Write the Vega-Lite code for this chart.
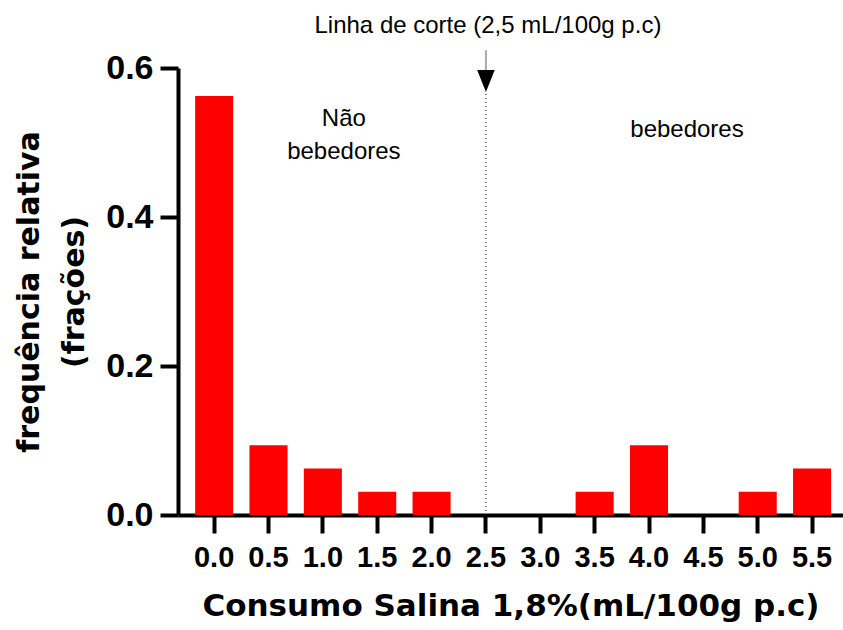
{
  "$schema": "https://vega.github.io/schema/vega-lite/v6.json",
  "autosize": {"type": "none"},
  "padding": {"left": 178, "top": 68, "right": 0, "bottom": 115},
  "width": 665,
  "height": 447,
  "config": {
    "font": "Liberation Sans",
    "view": {"stroke": null},
    "axis": {"grid": false}
  },
  "datasets": {
    "bars": [
      {"consumo": "0.0", "f": 0.5625},
      {"consumo": "0.5", "f": 0.09375},
      {"consumo": "1.0", "f": 0.0625},
      {"consumo": "1.5", "f": 0.03125},
      {"consumo": "2.0", "f": 0.03125},
      {"consumo": "2.5", "f": 0},
      {"consumo": "3.0", "f": 0},
      {"consumo": "3.5", "f": 0.03125},
      {"consumo": "4.0", "f": 0.09375},
      {"consumo": "4.5", "f": 0},
      {"consumo": "5.0", "f": 0.03125},
      {"consumo": "5.5", "f": 0.0625}
    ],
    "cut": [{"consumo": "2.5", "f": 0, "f2": 0.568}],
    "stem": [{"consumo": "2.5", "f": 0.624, "f2": 0.597}],
    "head": [{"consumo": "2.5", "f": 0.5826}],
    "cutlabel": [{"consumo": "2.5", "f": 0.657, "label": "Linha de corte (2,5 mL/100g p.c)"}],
    "nao": [{"consumo": "1.0", "f": 0.5315, "label": "Não\nbebedores"}],
    "beb": [{"consumo": "4.0", "f": 0.517, "label": "bebedores"}]
  },
  "layer": [
    {
      "data": {"name": "bars"},
      "mark": {"type": "bar", "color": "#ff0000"},
      "encoding": {
        "x": {
          "field": "consumo", "type": "ordinal",
          "scale": {"paddingInner": 0.3, "paddingOuter": 0.267, "align": 0.59},
          "axis": {
            "title": "Consumo Salina 1,8%(mL/100g p.c)",
            "titleFont": "DejaVu Sans",
            "titleFontSize": 31, "titleFontWeight": "bold", "titleColor": "black",
            "titlePadding": 19,
            "labelFontSize": 29, "labelFontWeight": "bold", "labelColor": "black",
            "labelAngle": 0, "labelPadding": 10,
            "tickSize": 18, "tickWidth": 4, "tickColor": "black",
            "domainColor": "black", "domainWidth": 4
          }
        },
        "y": {
          "field": "f", "type": "quantitative",
          "scale": {"domain": [0, 0.6], "nice": false},
          "axis": {
            "title": ["frequência relativa", "(frações)"],
            "titleFont": "DejaVu Sans",
            "titleFontSize": 30, "titleFontWeight": "bold", "titleColor": "black",
            "titleLineHeight": 45, "titlePadding": 16,
            "values": [0, 0.2, 0.4, 0.6], "format": ".1f",
            "labelFontSize": 34, "labelFontWeight": "bold", "labelColor": "black",
            "labelPadding": 7,
            "tickSize": 18, "tickWidth": 4, "tickColor": "black",
            "domainColor": "black", "domainWidth": 4
          }
        }
      }
    },
    {
      "data": {"name": "cut"},
      "mark": {"type": "rule", "color": "black", "strokeWidth": 1, "strokeDash": [1, 3]},
      "encoding": {
        "x": {"field": "consumo", "type": "ordinal"},
        "y": {"field": "f", "type": "quantitative", "scale": {"domain": [0, 0.6], "nice": false}},
        "y2": {"field": "f2"}
      }
    },
    {
      "data": {"name": "stem"},
      "mark": {"type": "rule", "color": "#aaaaaa", "strokeWidth": 2},
      "encoding": {
        "x": {"field": "consumo", "type": "ordinal"},
        "y": {"field": "f", "type": "quantitative", "scale": {"domain": [0, 0.6], "nice": false}},
        "y2": {"field": "f2"}
      }
    },
    {
      "data": {"name": "head"},
      "mark": {"type": "point", "shape": "M-0.8,-1L0.8,-1L0,1Z", "filled": true, "color": "black", "opacity": 1, "size": 484},
      "encoding": {
        "x": {"field": "consumo", "type": "ordinal"},
        "y": {"field": "f", "type": "quantitative", "scale": {"domain": [0, 0.6], "nice": false}}
      }
    },
    {
      "data": {"name": "cutlabel"},
      "mark": {"type": "text", "fontSize": 24, "color": "black", "dx": 2, "baseline": "middle"},
      "encoding": {
        "x": {"field": "consumo", "type": "ordinal"},
        "y": {"field": "f", "type": "quantitative", "scale": {"domain": [0, 0.6], "nice": false}},
        "text": {"field": "label"}
      }
    },
    {
      "data": {"name": "nao"},
      "mark": {"type": "text", "fontSize": 24, "color": "black", "dx": 21, "baseline": "middle", "lineBreak": "\n", "lineHeight": 33},
      "encoding": {
        "x": {"field": "consumo", "type": "ordinal"},
        "y": {"field": "f", "type": "quantitative", "scale": {"domain": [0, 0.6], "nice": false}},
        "text": {"field": "label"}
      }
    },
    {
      "data": {"name": "beb"},
      "mark": {"type": "text", "fontSize": 24, "color": "black", "dx": 38, "baseline": "middle"},
      "encoding": {
        "x": {"field": "consumo", "type": "ordinal"},
        "y": {"field": "f", "type": "quantitative", "scale": {"domain": [0, 0.6], "nice": false}},
        "text": {"field": "label"}
      }
    }
  ]
}
